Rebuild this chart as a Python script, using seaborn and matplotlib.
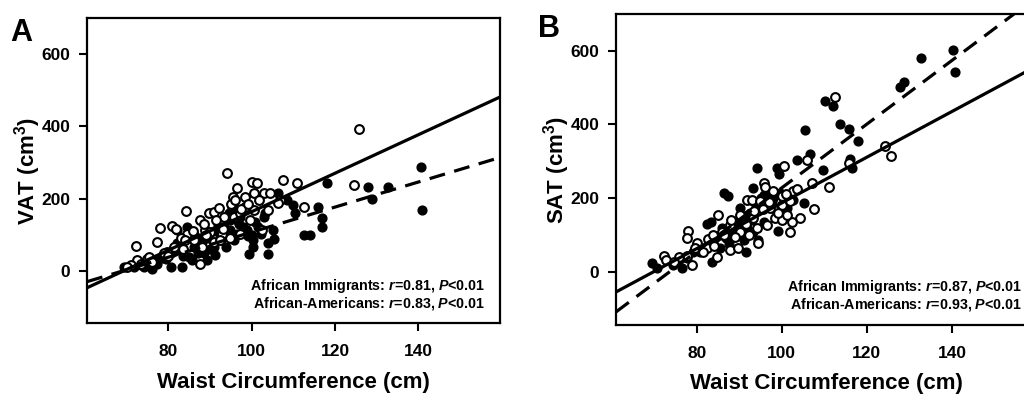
"""
VAT / SAT vs waist circumference, African immigrants vs African-Americans
"""
import matplotlib
import pandas as pd
import seaborn as sns
from matplotlib import pyplot as plt

# panel A (VAT) -- open circles
vat_open_x = [125.8, 94.1, 124.6, 100.0, 101.2, 100.6, 107.4, 110.8, 96.5, 95.5, 98.5, 102.9,
              104.5, 106.7, 101.8, 112.6, 84.3, 89.7, 90.9, 87.6, 81.0, 81.8, 77.9, 77.4, 72.2,
              87.6, 92.1, 93.4, 88.9, 90.1, 84.5, 83.0, 86.1, 95.7, 97.3, 98.5, 99.7, 102.5,
              94.9, 90.9, 79.8, 79.0, 75.0, 72.6, 71.0, 70.2, 75.4, 81.4, 84.1, 88.1, 92.9,
              97.3, 100.6, 103.8, 106.2,
              86.0, 88.5, 91.5, 93.0, 95.0, 96.0, 97.5, 99.0, 83.5, 80.0, 76.0, 73.5, 89.0, 92.5]
vat_open_y = [392, 270, 237, 247, 244, 214, 251, 244, 228, 205, 203, 216,
              216, 196, 196, 177, 166, 159, 162, 140, 125, 115, 119, 80, 69,
              20, 173, 150, 113, 108, 103, 90, 85, 150, 159, 177, 140, 113,
              90, 80, 53, 48, 34, 30, 16, 11, 39, 67, 85, 67, 103,
              103, 168, 168, 187,
              110, 130, 140, 115, 185, 195, 170, 185, 60, 40, 25, 20, 100, 85]

# panel A (VAT) -- filled circles
vat_fill_x = [140.7, 140.9, 132.7, 128.0, 128.9, 118.0, 112.6, 113.9, 116.8, 116.8, 115.8,
              110.0, 110.4, 108.4, 106.4, 105.0, 105.3, 103.8, 103.8, 100.3, 99.3, 98.9,
              100.9, 102.9, 103.3, 95.7, 96.5, 94.9, 94.9, 96.5, 92.7, 90.9, 91.3, 88.5,
              87.8, 86.1, 84.9, 83.3, 82.2, 80.6, 80.6, 77.4, 76.2, 74.2, 71.8, 69.4,
              82.2, 84.5, 88.9, 92.5, 93.3, 95.7, 98.1, 93.9, 89.3, 85.6, 79.4, 76.6,
              97.3, 100.2, 102.2,
              86.5, 88.0, 89.5, 91.0, 92.0, 93.5, 94.5, 95.0, 96.0, 97.0, 98.0, 99.0,
              100.0, 101.5, 90.0, 87.0, 83.5, 81.5, 78.5, 73.5]
vat_fill_y = [288, 168, 231, 233, 199, 244, 99, 99, 122, 145, 177,
              182, 159, 196, 214, 113, 87, 76, 46, 67, 46, 113,
              136, 150, 159, 173, 140, 140, 113, 103, 85, 67, 43, 48,
              85, 67, 39, 11, 76, 48, 11, 20, 4, 11, 11, 11,
              113, 122, 103, 103, 122, 85, 113, 67, 30, 30, 34, 30,
              150, 85, 103,
              95, 80, 90, 110, 125, 145, 160, 165, 150, 130, 120, 95,
              100, 120, 60, 50, 40, 55, 35, 15]

# panel B (SAT) -- open circles
sat_open_x = [112.5, 105.9, 124.3, 125.6, 115.7, 107.1, 107.5, 111.0, 100.4, 95.7, 96.1,
              102.7, 104.3, 102.4, 102.0, 94.5, 100.0, 100.0, 98.0, 98.4, 100.0, 96.5,
              93.3, 91.8, 93.0, 90.2, 87.8, 85.1, 82.7, 78.0, 77.6, 80.0, 77.6, 78.8,
              75.7, 72.2, 72.7, 80.8, 82.4, 84.7, 87.8, 89.8, 92.2, 94.1, 97.3, 102.0,
              90.2, 85.9, 74.7, 83.9, 101.2, 94.9, 98.0,
              86.5, 89.0, 91.5, 93.5, 95.5, 97.0, 99.0, 101.0, 84.0, 81.5, 79.5, 103.5, 88.0]
sat_open_y = [475, 303, 341, 314, 295, 241, 171, 229, 286, 241, 229,
              220, 145, 136, 109, 77, 205, 182, 173, 145, 141, 127,
              145, 195, 195, 155, 127, 155, 89, 111, 93, 77, 44, 18,
              41, 44, 32, 59, 64, 41, 59, 64, 100, 118, 173, 191,
              109, 109, 27, 100, 155, 191, 218,
              100, 95, 130, 165, 170, 190, 160, 210, 70, 55, 65, 225, 140]

# panel B (SAT) -- filled circles
sat_fill_x = [140.2, 140.8, 132.7, 127.8, 128.8, 110.2, 112.0, 113.7, 115.7, 117.8, 116.1,
              116.5, 109.6, 105.5, 106.7, 103.5, 98.8, 94.1, 99.4, 105.1, 99.2, 91.5,
              86.4, 87.4, 82.4, 83.3, 83.5, 76.5, 74.5, 69.4, 70.6, 77.6, 90.2, 91.8,
              93.3, 95.7, 97.3, 85.5, 86.9, 88.6, 89.4, 91.0, 93.3, 94.5, 95.7, 93.3,
              83.9, 85.5, 80.8, 79.2, 100.4, 101.2, 102.7, 91.8, 97.6,
              86.0, 88.0, 89.5, 90.5, 92.5, 94.0, 95.0, 96.5, 98.0, 99.5, 84.5, 87.5, 91.0, 93.0]
sat_fill_y = [603, 541, 579, 502, 515, 464, 450, 400, 388, 356, 307,
              282, 277, 386, 321, 303, 282, 282, 265, 186, 111, 55,
              214, 205, 129, 136, 27, 11, 18, 23, 9, 36, 173, 155,
              191, 209, 209, 100, 91, 95, 109, 86, 109, 86, 136, 227,
              82, 64, 55, 55, 164, 173, 195, 118, 191,
              120, 110, 135, 150, 160, 175, 200, 180, 200, 215, 95, 75, 120, 140]

# regression lines (intercept, slope): open group solid, filled group dashed
vat_open_fit = (-369.5, 5.33)
vat_fill_fit = (-240.0, 3.47)
sat_open_fit = (-433.0, 6.20)
sat_fill_fit = (-636.0, 8.64)

vat_stats = ["African Immigrants: $r$=0.81, $P$<0.01",
             "African-Americans: $r$=0.83, $P$<0.01"]
sat_stats = ["African Immigrants: $r$=0.87, $P$<0.01",
             "African-Americans: $r$=0.93, $P$<0.01"]


def draw_panel(ax, open_x, open_y, fill_x, fill_y, open_fit, fill_fit, ylabel, stats, letter, xlim):
    df_open = pd.DataFrame({"waist": open_x, "vol": open_y})
    df_fill = pd.DataFrame({"waist": fill_x, "vol": fill_y})
    sns.scatterplot(data=df_fill, x="waist", y="vol", ax=ax, s=40, color="black",
                    edgecolor="black", linewidth=1.0, zorder=2)
    sns.scatterplot(data=df_open, x="waist", y="vol", ax=ax, s=40, facecolor="white",
                    edgecolor="black", linewidth=1.5, zorder=3)
    ax.axline((0, open_fit[0]), slope=open_fit[1], color="black", lw=2.3, zorder=4)
    ax.axline((0, fill_fit[0]), slope=fill_fit[1], color="black", lw=2.3,
              dashes=(5, 3), zorder=4)

    ax.set_xlim(*xlim)
    ax.set_ylim(-145, 700)
    ax.set_xticks([80, 100, 120, 140])
    ax.set_yticks([0, 200, 400, 600])
    ax.tick_params(direction="out", length=6, width=1.5, labelsize=12.5, pad=6,
                   color="black", labelcolor="black")
    ax.tick_params(axis="x", pad=9)
    for lab in ax.get_xticklabels() + ax.get_yticklabels():
        lab.set_fontweight("bold")
    for sp in ax.spines.values():
        sp.set_linewidth(1.6)
        sp.set_color("black")
        sp.set_visible(True)

    font2 = {"weight": "bold", "size": 16}
    ax.set_xlabel("Waist Circumference (cm)", fontdict=font2, labelpad=9, color="black")
    ax.set_ylabel(ylabel, fontdict=font2, labelpad=-1, color="black")

    ax.text(0.965, 0.123, stats[0], transform=ax.transAxes, ha="right", va="center",
            fontsize=10.3, fontweight="bold", color="black")
    ax.text(0.965, 0.066, stats[1], transform=ax.transAxes, ha="right", va="center",
            fontsize=10.3, fontweight="bold", color="black")
    ax.text(-0.185, 1.0, letter, transform=ax.transAxes, ha="left", va="top",
            fontsize=22, fontweight="bold", color="black")


def plot():
    sns.set_style("ticks")
    plt.rcParams["font.family"] = ["Liberation Sans", "DejaVu Sans"]
    plt.rcParams["text.color"] = "black"
    matplotlib.rcParams["mathtext.fontset"] = "custom"
    matplotlib.rcParams["mathtext.rm"] = "Liberation Sans:bold"
    matplotlib.rcParams["mathtext.it"] = "Liberation Sans:bold:italic"

    fig = plt.figure(figsize=(10.24, 3.98), dpi=100)
    ax_a = fig.add_axes([0.085, 0.188, 0.403, 0.767])
    ax_b = fig.add_axes([0.6016, 0.183, 0.411, 0.782])

    draw_panel(ax_a, vat_open_x, vat_open_y, vat_fill_x, vat_fill_y, vat_open_fit, vat_fill_fit,
               "VAT (cm$^{3}$)", vat_stats, "A", (60.5, 159.5))
    draw_panel(ax_b, sat_open_x, sat_open_y, sat_fill_x, sat_fill_y, sat_open_fit, sat_fill_fit,
               "SAT (cm$^{3}$)", sat_stats, "B", (61, 160))

    plt.savefig("out.png", dpi=100)


if __name__ == "__main__":
    plot()
